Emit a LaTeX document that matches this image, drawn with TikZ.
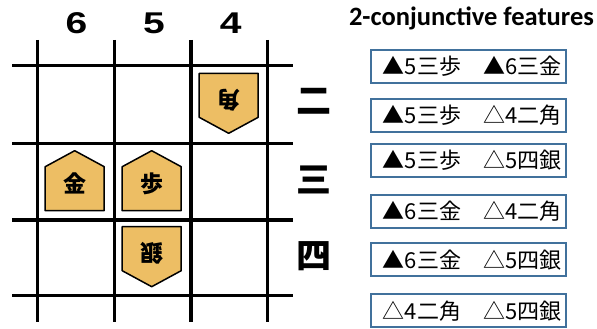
\documentclass[tikz,border=0pt]{standalone}
\usepackage{fontspec}
\setmainfont{Liberation Sans}
\newfontfamily\titlefont{Carlito}
\newfontfamily\jpfont{Noto Sans CJK JP}
\usetikzlibrary{positioning}

\definecolor{komafill}{RGB}{237,190,100}
\definecolor{boxblue}{RGB}{65,113,156}

\begin{document}
\begin{tikzpicture}[
        x=1pt, y=-1pt,
        koma/.pic = {
            \draw[fill=komafill, line width=1.5pt, line join=round]
                (-29.5,30) -- (29.5,30) -- (29.5,-14) -- (0,-30) -- (-29.5,-14) -- cycle;
            \node[transform shape, font=\jpfont\bfseries\fontsize{23}{23}\selectfont] at (0,3) {\tikzpictext};
        },
        suji/.style = {font=\bfseries\fontsize{30}{30}\selectfont, xscale=1.3, transform shape},
        dan/.style = {font=\jpfont\bfseries\fontsize{35}{35}\selectfont},
        feature/.style = {draw=boxblue, line width=2pt, minimum width=195pt, minimum height=33pt,
            inner sep=0pt, font=\jpfont\fontsize{22}{22}\selectfont}
    ]
    \useasboundingbox (0,0) rectangle (597,329);

    % board
    \foreach \x in {37.7,114.3,191,267.7}
        \draw[line width=3.5pt] (\x,40) -- (\x,322);
    \foreach \y in {65.7,143.3,220,295.7}
        \draw[line width=3.5pt] (12.3,\y) -- (293.3,\y);

    %labels
    \node [suji] (suji6) at (76.5,23) {6};
    \node [suji] (suji5) at (154,23) {5};
    \node [suji] (suji4) at (230.8,23) {4};
    \node [dan] (dan2) at (313.5,101) {二};
    \node [dan] (dan3) at (313.5,180) {三};
    \node [dan] (dan4) at (313.5,256) {四};

    % pieces
    \pic [pic text=金] at (74.7,180.7) {koma};
    \pic [pic text=歩] at (151.7,180.7) {koma};
    \pic [rotate=180, pic text=角] at (228.7,103.3) {koma};
    \pic [rotate=180, pic text=銀] at (151.7,256.7) {koma};

    % features
    \node [font=\titlefont\bfseries\fontsize{26.5}{26.5}\selectfont] (title) at (471.5,18) {2-conjunctive features};
    \foreach[count=\i] \t/\y in {{▲5三歩　▲6三金}/66.3, {▲5三歩　△4二角}/115, {▲5三歩　△5四銀}/160.2,
                                {▲6三金　△4二角}/211, {▲6三金　△5四銀}/259.8, {△4二角　△5四銀}/310.8} {
        \node [feature] (feat\i) at (468.7,\y) {\hspace{7pt}\t};
    }

\end{tikzpicture}
\end{document}
